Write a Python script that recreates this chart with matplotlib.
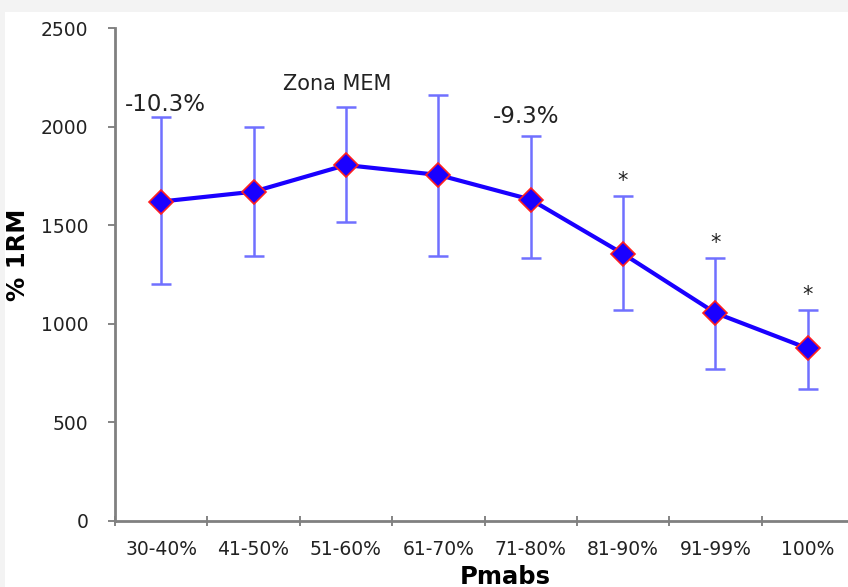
import numpy as np
import matplotlib
matplotlib.use('Agg')
import matplotlib.pyplot as plt
from matplotlib.patches import Rectangle

# ── Dati ──────────────────────────────────────────────────────────────
categories = ['30-40%', '41-50%', '51-60%', '61-70%', '71-80%', '81-90%', '91-99%', '100%']
means = [1620, 1670, 1805, 1755, 1630, 1355, 1055, 875]
err_top = [2050, 2000, 2100, 2160, 1950, 1650, 1335, 1070]
err_bot = [1200, 1345, 1515, 1345, 1335, 1070, 770, 670]
stars = ['', '', '', '', '', '*', '*', '*']

x = np.arange(len(categories))
yerr = [np.array(means) - np.array(err_bot), np.array(err_top) - np.array(means)]

fig = plt.figure(figsize=(8.48, 5.87), dpi=100, facecolor='#f3f3f3')
fig.patches.append(Rectangle((5 / 848, 0), 1, (587 - 12) / 587, transform=fig.transFigure,
                             facecolor='white', edgecolor='none', zorder=-5))
ax = fig.add_axes([115 / 848, 66 / 587, 739 / 848, 493 / 587])
ax.set_facecolor('none')

ax.errorbar(x, means, yerr=yerr, fmt='none', ecolor='#7070ff', elinewidth=1.8,
            capsize=7, capthick=1.8, zorder=2)
ax.plot(x, means, color='#1a00ff', lw=3, zorder=3)
ax.plot(x, means, ls='none', marker='D', ms=12.5, mfc='#1a00ff', mec='#ff2020', mew=1.2, zorder=4)

for xi, top, s in zip(x, err_top, stars):
    if s:
        ax.text(xi, top + 25, s, ha='center', va='bottom', fontsize=15, color='#222222')

ax.text(0.05, 2110, '-10.3%', ha='center', va='center', fontsize=16.5, color='#222222')
ax.text(1.9, 2215, 'Zona MEM', ha='center', va='center', fontsize=15, color='#222222')
ax.text(3.95, 2050, '-9.3%', ha='center', va='center', fontsize=16.5, color='#222222')

ax.set_xlim(-0.5, 7.5)
ax.set_ylim(0, 2500)
ax.set_yticks([0, 500, 1000, 1500, 2000, 2500])
ax.set_xticks(x)
ax.set_xticklabels(categories, fontsize=13.5, color='#222222')
ax.set_xticks(np.arange(-0.5, 8.0, 1.0), minor=True)
ax.tick_params(axis='x', which='major', length=0, pad=14)
ax.tick_params(axis='x', which='minor', direction='inout', length=7, width=1.2, color='#707070')
ax.tick_params(axis='y', direction='out', length=5, width=1.2, color='#707070',
               labelsize=13.5, labelcolor='#222222', pad=14)

for side in ('top', 'right'):
    ax.spines[side].set_visible(False)
for side in ('left', 'bottom'):
    ax.spines[side].set_color('#808080')
    ax.spines[side].set_linewidth(2)

ax.set_ylabel('% 1RM', fontsize=17.5, fontweight='bold')
ax.set_xlabel('Pmabs', fontsize=17.5, fontweight='bold')
ax.yaxis.set_label_coords(-0.115, 0.54)
ax.xaxis.set_label_coords(0.528, -0.09)

fig.savefig('out.png', dpi=100)
